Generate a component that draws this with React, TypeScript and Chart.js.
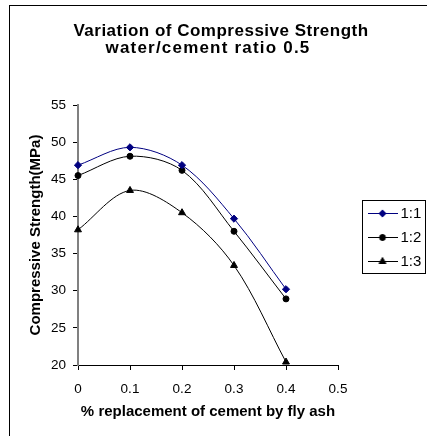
import React, { useEffect, useRef } from 'react';
import { Chart, registerables } from 'chart.js';
import { drawPoint } from 'chart.js/helpers';

Chart.register(...registerables);

// ---- data ----
const replacement = [0, 0.1, 0.2, 0.3, 0.4];
const mix11 = [46.9, 49.3, 46.9, 39.7, 30.2];
const mix12 = [45.5, 48.1, 46.2, 38.0, 28.9];
const mix13 = [38.2, 43.5, 40.5, 33.4, 20.4];
const seriesLabels = ['1:1', '1:2', '1:3'];
const titleLines = ['Variation of Compressive Strength', 'water/cement ratio 0.5'];
const xTitle = '% replacement of cement by fly ash';
const yTitle = 'Compressive Strength(MPa)';
const xRange = [0, 0.5];
const yRange = [20, 55];
const xStep = 0.1;
const yStep = 5;

const FONT = "'Liberation Sans', Arial, sans-serif";
const NAVY = '#000080';
const BLACK = '#000000';

const seriesStyle = [
  { color: NAVY, pointStyle: 'rectRot', radius: 3.6 },
  { color: BLACK, pointStyle: 'circle', radius: 3 },
  { color: BLACK, pointStyle: 'triangle', radius: 4 },
];

const SYMBOL_W = 30;

function makeSymbol(color: string, pointStyle: string, radius: number) {
  const c = document.createElement('canvas');
  c.width = SYMBOL_W;
  c.height = 11;
  const ctx = c.getContext('2d')!;
  ctx.strokeStyle = color;
  ctx.fillStyle = color;
  ctx.lineWidth = 1;
  ctx.beginPath();
  ctx.moveTo(0, 5.5);
  ctx.lineTo(SYMBOL_W, 5.5);
  ctx.stroke();
  drawPoint(ctx, { pointStyle: pointStyle as any, radius, rotation: 0, borderWidth: 1 } as any, SYMBOL_W / 2, 5.5);
  return c;
}

export default function App() {
  const ref = useRef<HTMLCanvasElement | null>(null);

  useEffect(() => {
    if (!ref.current) return;
    const symbols = seriesStyle.map((s) => makeSymbol(s.color, s.pointStyle, s.radius));
    const values = [mix11, mix12, mix13];

    const helperPlugin = {
      id: 'helperPlugin',
      beforeLayout(chart: any) {
        const lg = chart.legend;
        if (lg && !lg.__fitPatched) {
          const f = lg.fit.bind(lg);
          lg.fit = () => {
            f();
            lg.width = 89;
          };
          lg.__fitPatched = true;
        }
      },
      afterLayout(chart: any) {
        const lg = chart.legend;
        if (lg) {
          const w = lg.right - lg.left;
          lg.left = chart.chartArea.right + 25;
          lg.right = lg.left + w;
          lg.top += 2.5;
          lg.bottom += 2.5;
        }
      },
      beforeDraw(chart: any) {
        chart.boxes.forEach((b: any) => {
          let spacing = '';
          if (b === chart.titleBlock) spacing = '0.5px';
          else if (b.options && b.options.text === titleLines[1]) spacing = '1.2px';
          if (spacing && !b.__spPatched) {
            const orig = b.draw.bind(b);
            b.draw = (ca: any) => {
              const ctx: any = chart.ctx;
              const prev = ctx.letterSpacing;
              ctx.letterSpacing = spacing;
              orig(ca);
              ctx.letterSpacing = prev || '0px';
            };
            b.__spPatched = true;
          }
        });
      },
      afterDraw(chart: any) {
        const lg = chart.legend;
        if (!lg || !lg.legendHitBoxes || !lg.legendHitBoxes.length) return;
        const hb = lg.legendHitBoxes;
        const first = hb[0];
        const last = hb[hb.length - 1];
        const left = Math.round(first.left - 10) + 0.5;
        let right = 0;
        hb.forEach((h: any) => (right = Math.max(right, h.left + h.width)));
        right = Math.round(right + 3.5) + 0.5;
        const top = Math.round(first.top + first.height / 2 - 13.5) + 0.5;
        const bottom = Math.round(last.top + last.height / 2 + 11.5) + 0.5;
        const ctx = chart.ctx;
        ctx.save();
        ctx.strokeStyle = '#000';
        ctx.lineWidth = 1;
        ctx.strokeRect(left, top, right - left, bottom - top);
        ctx.restore();
      },
    };

    const chart = new Chart(ref.current, {
      type: 'line',
      data: {
        datasets: seriesLabels.map((label, i) => ({
          label,
          data: replacement.map((x, j) => ({ x, y: values[i][j] })),
          borderColor: seriesStyle[i].color,
          backgroundColor: seriesStyle[i].color,
          pointBackgroundColor: seriesStyle[i].color,
          pointBorderColor: seriesStyle[i].color,
          pointStyle: seriesStyle[i].pointStyle as any,
          pointRadius: seriesStyle[i].radius,
          pointBorderWidth: 1,
          borderWidth: 1,
          tension: 0.33,
          fill: false,
          clip: false as any,
        })),
      },
      options: {
        responsive: false,
        animation: false,
        events: [],
        layout: { padding: { left: 15, right: 0, top: 0, bottom: 0 } },
        plugins: {
          title: {
            display: true,
            text: titleLines[0],
            color: BLACK,
            font: { family: FONT, size: 17, weight: 'bold', lineHeight: '16.5px' },
            padding: { top: 23.5, bottom: 0 },
          },
          subtitle: {
            display: true,
            text: titleLines[1],
            color: BLACK,
            fullSize: false,
            font: { family: FONT, size: 17, weight: 'bold', lineHeight: '16.5px' },
            padding: { top: 0, bottom: 48.5 },
          },
          legend: {
            display: true,
            position: 'right',
            align: 'center',
            fullSize: false,
            labels: {
              usePointStyle: true,
              pointStyleWidth: 21,
              padding: 9,
              color: BLACK,
              font: { family: FONT, size: 15 },
              generateLabels: (ch: any) => {
                const items = (Chart.defaults.plugins.legend.labels as any).generateLabels(ch);
                items.forEach((it: any, i: number) => {
                  it.pointStyle = symbols[i];
                });
                return items;
              },
            },
          },
          tooltip: { enabled: false },
        },
        scales: {
          x: {
            type: 'linear',
            min: xRange[0],
            max: xRange[1],
            afterFit: (s: any) => {
              s.height = 71;
            },
            ticks: {
              stepSize: xStep,
              color: BLACK,
              padding: 11,
              font: { family: FONT, size: 13.5 },
              maxRotation: 0,
            },
            grid: {
              display: true,
              drawOnChartArea: false,
              drawTicks: true,
              tickLength: 5,
              color: BLACK,
              lineWidth: 1,
            },
            border: { display: true, color: BLACK, width: 1 },
            title: {
              display: true,
              text: xTitle,
              color: BLACK,
              font: { family: FONT, size: 15, weight: 'bold', lineHeight: 1.2 },
              padding: { top: 0, bottom: 15.5 },
            },
          },
          y: {
            type: 'linear',
            min: yRange[0],
            max: yRange[1],
            afterFit: (s: any) => {
              s.width = 63;
            },
            ticks: {
              stepSize: yStep,
              color: BLACK,
              padding: 7,
              font: { family: FONT, size: 13.5 },
            },
            grid: {
              display: true,
              drawOnChartArea: false,
              drawTicks: true,
              tickLength: 5,
              color: BLACK,
              lineWidth: 1,
            },
            border: { display: true, color: '#808080', width: 2 },
            title: {
              display: true,
              text: yTitle,
              color: BLACK,
              font: { family: FONT, size: 15, weight: 'bold', lineHeight: 1.2 },
              padding: { top: 12, bottom: 0 },
            },
          },
        },
      } as any,
      plugins: [helperPlugin as any],
    });

    return () => {
      chart.destroy();
    };
  }, []);

  return (
    <div
      style={{
        position: 'fixed',
        left: 0,
        top: 0,
        width: 427,
        height: 436,
        overflow: 'hidden',
        background: '#fff',
      }}
    >
      <div
        style={{
          position: 'absolute',
          left: 9,
          top: 5,
          width: 600,
          height: 600,
          border: '1px solid #000',
          boxSizing: 'border-box',
        }}
      />
      <canvas
        ref={ref}
        width={427}
        height={436}
        style={{ position: 'absolute', left: 0, top: 0, width: 427, height: 436 }}
      />
    </div>
  );
}
